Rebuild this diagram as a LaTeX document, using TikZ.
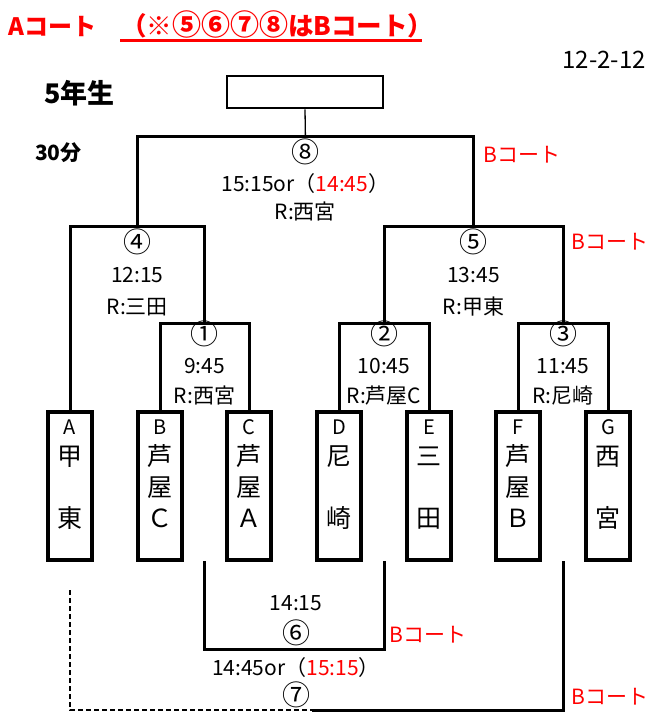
\documentclass[tikz,border=0pt]{standalone}
\usepackage{fontspec}
\setmainfont{Noto Sans CJK JP}
\newcommand\fsz[1]{\fontsize{#1pt}{#1pt}\selectfont}
\begin{document}
\begin{tikzpicture}[x=1pt,y=-1pt,
  team/.style={draw, line width=4pt, minimum width=44pt, minimum height=148pt, inner sep=0pt},
  topbox/.style={draw, line width=2.7pt, minimum width=156pt, minimum height=32pt, inner sep=0pt},
  br/.style={line width=3pt, line join=miter},
  dsh/.style={line width=2pt, dash pattern=on 5pt off 3pt},
  lbl/.style={inner sep=0pt, font=\fsz{21}, text height=15.5pt, text depth=0pt},
  circ/.style={inner sep=0pt, font=\fsz{28}, text height=21pt, text depth=0pt},
  bc/.style={lbl, text=red, anchor=west},
  kan/.style={inner sep=0pt, font=\fsz{25}, text height=19pt, text depth=0pt},
  lat/.style={inner sep=0pt, font=\fsz{20}, text height=14.5pt, text depth=0pt},
  title/.style={inner sep=0pt, font=\fsz{24}\bfseries, text=red, text height=17.5pt, text depth=0pt, anchor=west}
]
\useasboundingbox (0,0) rectangle (648,712);

% header texts
\node[title] (tA) at (8,27) {Aコート};
\node[title, font=\fsz{25.5}\bfseries] (tB) at (121,27) {（※{\fsz{29}⑤⑥⑦⑧}はBコート）};
\coordinate (ul1) at (120,40);
\coordinate (ul2) at (422,40);
\draw[red, line width=3pt] (ul1) -- (ul2);
\node[inner sep=0pt, font=\fsz{24}, text height=17.5pt, text depth=0pt, anchor=east] (date) at (646,60) {12-2-12};
\node[inner sep=0pt, font=\fsz{27}\bfseries, text height=20pt, text depth=0pt, anchor=west] (grade) at (44,93) {5年生};
\node[inner sep=0pt, font=\fsz{21}\bfseries, text height=15.5pt, text depth=0pt, anchor=west] (len) at (35,153) {30分};

% top box
\node[topbox] (top) at (305,92) {};

% team boxes
\node[team] (A) at (70,486) {};
\node[team] (B) at (160,486) {};
\node[team] (C) at (249,486) {};
\node[team] (D) at (339,486) {};
\node[team] (E) at (429,486) {};
\node[team] (F) at (518,486) {};
\node[team] (G) at (608,486) {};

% team texts
\node[lat] (A1) at (70,427) {A};
\node[kan] (A2) at (70,456) {甲};
\node[kan] (A4) at (70,518) {東};
\node[lat] (B1) at (160,427) {B};
\node[kan] (B2) at (160,456) {芦};
\node[kan] (B3) at (160,487) {屋};
\node[kan] (B4) at (160,518) {Ｃ};
\node[lat] (C1) at (249,427) {C};
\node[kan] (C2) at (249,456) {芦};
\node[kan] (C3) at (249,487) {屋};
\node[kan] (C4) at (249,518) {Ａ};
\node[lat] (D1) at (339,427) {D};
\node[kan] (D2) at (339,456) {尼};
\node[kan] (D4) at (339,518) {崎};
\node[lat] (E1) at (429,427) {E};
\node[kan] (E2) at (429,456) {三};
\node[kan] (E4) at (429,518) {田};
\node[lat] (F1) at (518,427) {F};
\node[kan] (F2) at (518,456) {芦};
\node[kan] (F3) at (518,487) {屋};
\node[kan] (F4) at (518,518) {Ｂ};
\node[lat] (G1) at (608,427) {G};
\node[kan] (G2) at (608,456) {西};
\node[kan] (G4) at (608,518) {宮};

% match points
\coordinate (m1) at (204.5,323);
\coordinate (m2) at (384,323);
\coordinate (m3) at (563,323);
\coordinate (m4) at (137.3,226);
\coordinate (m5) at (473.5,226);
\coordinate (m8) at (305.4,136);
\coordinate (s1) at (204.5,561);
\coordinate (s2) at (384,561);
\coordinate (s3) at (563,561);
\coordinate (m6) at (294,649);
\coordinate (d0) at (70,590);
\coordinate (m7) at (312,710);

% brackets
\draw[line width=1.3pt] (top.south) -- (m8);
\draw[br] (m4) |- (m8) -| (m5);
\draw[br] (A.north) |- (m4) -| (m1);
\draw[br] (m2) |- (m5) -| (m3);
\draw[br] (B.north) |- (m1) -| (C.north);
\draw[br] (D.north) |- (m2) -| (E.north);
\draw[br] (F.north) |- (m3) -| (G.north);
\draw[br] (s1) |- (m6) -| (s2);
\draw[dsh] (d0) |- (m7);
\draw[br] (m7) -| (s3);

% match labels
\node[circ] (n8) at (305.4,152) {⑧};
\node[lbl] (t8) at (305.4,184) {15:15or（\textcolor{red}{14:45}）};
\node[lbl] (r8) at (305.4,212) {R:西宮};
\node[bc] (b8) at (483,155) {Bコート};

\node[circ] (n4) at (137.3,242) {④};
\node[lbl] (t4) at (137.3,275) {12:15};
\node[lbl] (r4) at (137.3,307) {R:三田};

\node[circ] (n5) at (473.5,242) {⑤};
\node[lbl] (t5) at (473.5,275) {13:45};
\node[lbl] (r5) at (473.5,307) {R:甲東};
\node[bc] (b5) at (571,242) {Bコート};

\node[circ] (n1) at (204.5,334) {①};
\node[lbl] (t1) at (204.5,366) {9:45};
\node[lbl] (r1) at (204.5,396) {R:西宮};

\node[circ] (n2) at (384,334) {②};
\node[lbl] (t2) at (384,366) {10:45};
\node[lbl] (r2) at (384,396) {R:芦屋C};

\node[circ] (n3) at (563,334) {③};
\node[lbl] (t3) at (563,366) {11:45};
\node[lbl] (r3) at (563,396) {R:尼崎};

\node[lbl] (t6) at (296,603) {14:15};
\node[circ] (n6) at (296,633) {⑥};
\node[bc] (b6) at (389,635) {Bコート};

\node[lbl] (t7) at (296,668) {14:45or（\textcolor{red}{15:15}）};
\node[circ] (n7) at (296,695) {⑦};
\node[bc] (b7) at (571,697) {Bコート};
\end{tikzpicture}
\end{document}
